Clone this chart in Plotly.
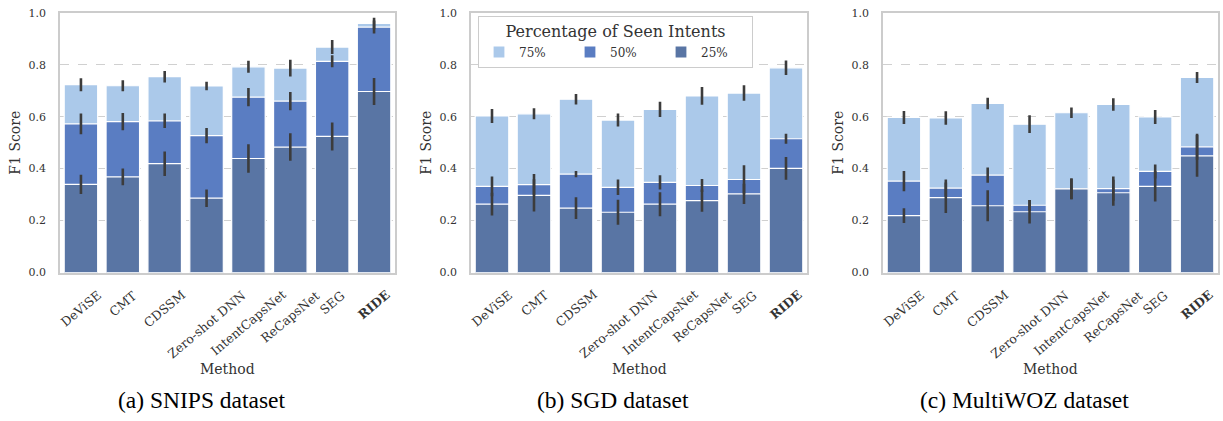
import plotly.graph_objects as go

methods = ["DeViSE", "CMT", "CDSSM", "Zero-shot DNN", "IntentCapsNet", "ReCapsNet", "SEG", "RIDE"]
method_labels = ["DeViSE", "CMT", "CDSSM", "Zero-shot DNN", "IntentCapsNet", "ReCapsNet", "SEG", "<b>RIDE</b>"]
series_names = ["75%", "50%", "25%"]
datasets = ["(a) SNIPS dataset", "(b) SGD dataset", "(c) MultiWOZ dataset"]

# SNIPS
snips_75 = [0.723, 0.719, 0.754, 0.718, 0.792, 0.787, 0.868, 0.959]
snips_75_err = [0.025, 0.021, 0.022, 0.016, 0.023, 0.032, 0.027, 0.022]
snips_50 = [0.572, 0.581, 0.584, 0.527, 0.675, 0.660, 0.813, 0.945]
snips_50_err = [0.040, 0.033, 0.028, 0.029, 0.035, 0.035, 0.023, 0.025]
snips_25 = [0.339, 0.368, 0.419, 0.286, 0.439, 0.483, 0.524, 0.697]
snips_25_err = [0.037, 0.032, 0.047, 0.034, 0.055, 0.053, 0.054, 0.052]

# SGD
sgd_75 = [0.603, 0.611, 0.667, 0.587, 0.628, 0.680, 0.691, 0.788]
sgd_75_err = [0.027, 0.021, 0.020, 0.025, 0.029, 0.034, 0.030, 0.028]
sgd_50 = [0.332, 0.338, 0.379, 0.328, 0.347, 0.335, 0.358, 0.515]
sgd_50_err = [0.038, 0.041, 0.012, 0.030, 0.027, 0.025, 0.055, 0.019]
sgd_25 = [0.263, 0.297, 0.248, 0.232, 0.263, 0.277, 0.303, 0.401]
sgd_25_err = [0.044, 0.062, 0.042, 0.048, 0.046, 0.043, 0.039, 0.044]

# MultiWOZ
mwoz_75 = [0.597, 0.595, 0.651, 0.571, 0.615, 0.647, 0.599, 0.751]
mwoz_75_err = [0.025, 0.026, 0.022, 0.034, 0.020, 0.024, 0.027, 0.021]
mwoz_50 = [0.352, 0.325, 0.375, 0.259, 0.322, 0.323, 0.389, 0.484]
mwoz_50_err = [0.039, 0.033, 0.029, 0.020, 0.040, 0.047, 0.027, 0.050]
mwoz_25 = [0.219, 0.288, 0.257, 0.234, 0.322, 0.307, 0.332, 0.449]
mwoz_25_err = [0.028, 0.059, 0.060, 0.045, 0.040, 0.050, 0.059, 0.080]

panels = [
    [(snips_75, snips_75_err), (snips_50, snips_50_err), (snips_25, snips_25_err)],
    [(sgd_75, sgd_75_err), (sgd_50, sgd_50_err), (sgd_25, sgd_25_err)],
    [(mwoz_75, mwoz_75_err), (mwoz_50, mwoz_50_err), (mwoz_25, mwoz_25_err)],
]

colors = ["#abc9ea", "#5a7dc2", "#5975a4"]
W, H = 1223, 421
x_doms = [(60 / W, 395 / W), (471 / W, 807 / W), (883 / W, 1218 / W)]
y_dom = (1 - 275 / H, 1 - 7 / H)

SERIF = "DejaVu Serif"
TXT = "#333333"

fig = go.Figure()
for p, series in enumerate(panels):
    xa = "x" if p == 0 else f"x{p + 1}"
    ya = "y" if p == 0 else f"y{p + 1}"
    for s, (vals, errs) in enumerate(series):
        fig.add_trace(go.Bar(
            x=methods, y=vals, xaxis=xa, yaxis=ya,
            name=series_names[s], legendgroup=series_names[s], showlegend=(p == 0),
            marker=dict(color=colors[s], line=dict(color="white", width=1.2)),
            hoverinfo="skip",
        ))
    for s, (vals, errs) in enumerate(series):
        fig.add_trace(go.Scatter(
            x=methods, y=vals, xaxis=xa, yaxis=ya, mode="markers",
            marker=dict(size=1, opacity=0), showlegend=False, hoverinfo="skip",
            error_y=dict(type="data", array=errs, visible=True, color="#3c3c3c",
                         thickness=2.6, width=0),
        ))

annotations = []
for p in range(3):
    xk = "xaxis" if p == 0 else f"xaxis{p + 1}"
    yk = "yaxis" if p == 0 else f"yaxis{p + 1}"
    xa = "x" if p == 0 else f"x{p + 1}"
    ya = "y" if p == 0 else f"y{p + 1}"
    fig.layout[xk] = dict(
        domain=x_doms[p], anchor=ya, range=[-0.5, 7.5], showticklabels=False,
        showline=True, mirror=True, linecolor="#cccccc", linewidth=1.5,
        showgrid=False, zeroline=False, ticks="", fixedrange=True,
    )
    fig.layout[yk] = dict(
        domain=y_dom, anchor=xa, range=[0, 1.0], tickvals=[0, 0.2, 0.4, 0.6, 0.8, 1.0],
        tickformat=".1f", showline=True, mirror=True, linecolor="#cccccc", linewidth=1.5,
        showgrid=True, gridcolor="#d0d0d0", griddash="dash", gridwidth=1,
        zeroline=False, ticks="", ticklabelstandoff=10, fixedrange=True,
        tickfont=dict(family=SERIF, size=11, color=TXT),
    )
    for i, lab in enumerate(method_labels):
        annotations.append(dict(
            x=methods[i], y=0, xref=xa, yref=f"{ya} domain", text=lab, showarrow=False,
            textangle=-40, xanchor="center", yanchor="top", yshift=-12,
            font=dict(family=SERIF, size=12.5, color=TXT),
        ))
    cx = (x_doms[p][0] + x_doms[p][1]) / 2
    annotations.append(dict(
        x=cx, y=1 - 375 / H, xref="paper", yref="paper", text="Method", showarrow=False,
        xanchor="center", yanchor="middle", font=dict(family=SERIF, size=14, color=TXT),
    ))
    annotations.append(dict(
        x=x_doms[p][0] - 45 / W, y=(y_dom[0] + y_dom[1]) / 2, xref="paper", yref="paper",
        text="F1 Score", showarrow=False, textangle=-90, xanchor="center", yanchor="middle",
        font=dict(family=SERIF, size=14, color=TXT),
    ))
    annotations.append(dict(
        x=cx - 26 / W, y=1 - 407 / H, xref="paper", yref="paper", text=datasets[p],
        showarrow=False, xanchor="center", yanchor="middle",
        font=dict(family="Liberation Serif", size=23.5, color="black"),
    ))

fig.update_layout(
    width=W, height=H, margin=dict(l=0, r=0, t=0, b=0),
    paper_bgcolor="white", plot_bgcolor="white", barmode="overlay", bargap=0.2,
    annotations=annotations, showlegend=True,
    legend=dict(
        x=478 / W, y=1 - 10 / H, xanchor="left", yanchor="top", orientation="h",
        title=dict(text="Percentage of Seen Intents", side="top center",
                   font=dict(family=SERIF, size=16, color=TXT)),
        font=dict(family=SERIF, size=12, color=TXT),
        bgcolor="white", bordercolor="#cccccc", borderwidth=1,
        entrywidth=46, entrywidthmode="pixels", traceorder="normal",
        tracegroupgap=0,
    ),
)

fig.write_html(
    "out.html",
    config={"displayModeBar": False},
    post_script="document.body.style.margin='0';document.body.style.overflow='hidden';",
)
